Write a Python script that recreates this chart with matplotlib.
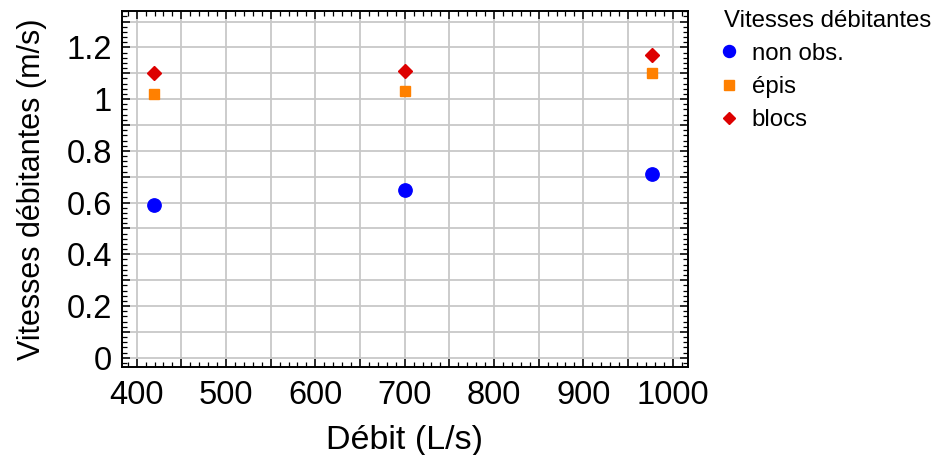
import numpy as np
import matplotlib.pyplot as plt
from matplotlib.ticker import MultipleLocator, FuncFormatter

plt.rcParams['font.family'] = ['Liberation Sans', 'DejaVu Sans']

# Débit (L/s) and vitesses débitantes (m/s)
debit = [419, 700, 977]
v_non_obs = [0.59, 0.65, 0.71]
v_epis = [1.02, 1.03, 1.10]
v_blocs = [1.10, 1.11, 1.17]

fig = plt.figure(figsize=(9.33, 4.55), dpi=100)
ax = fig.add_axes([0.1304, 0.1927, 0.6070, 0.7838])

ax.plot(debit, v_non_obs, 'o', color='#0000ff', ms=9.6, ls='none', label='non obs.', zorder=3)
ax.plot(debit, v_epis, 's', color='#ff8000', ms=7.5, ls='none', label='épis', zorder=3)
ax.plot(debit, v_blocs, 'D', color='#dd0000', ms=6.8, ls='none', label='blocs', zorder=3)

ax.set_xlim(383.2, 1017.2)
ax.set_ylim(-0.037, 1.342)

ax.xaxis.set_major_locator(MultipleLocator(50))
ax.xaxis.set_minor_locator(MultipleLocator(10))
ax.yaxis.set_major_locator(MultipleLocator(0.1))
ax.yaxis.set_minor_locator(MultipleLocator(0.02))


def fmt_x(v, pos):
    return '%d' % round(v) if round(v) % 100 == 0 else ''


def fmt_y(v, pos):
    k = int(round(v * 10))
    if k % 2:
        return ''
    return '%g' % (k / 10)


ax.xaxis.set_major_formatter(FuncFormatter(fmt_x))
ax.yaxis.set_major_formatter(FuncFormatter(fmt_y))

ax.grid(True, which='major', color='#c8c8c8', lw=1.3)
ax.set_axisbelow(True)

ax.tick_params(which='both', direction='in', top=True, right=True, color='black')
ax.tick_params(which='major', length=6, width=1.1, labelsize=23.5)
ax.tick_params(axis='x', which='major', pad=9)
ax.tick_params(axis='y', which='major', pad=7)
ax.tick_params(which='minor', length=3.5, width=0.9)
for sp in ax.spines.values():
    sp.set_linewidth(1.4)

ax.set_xlabel('Débit (L/s)', fontsize=24.5, labelpad=10)
ax.set_ylabel('Vitesses débitantes (m/s)', fontsize=22, labelpad=14)

leg = ax.legend(title='Vitesses débitantes', loc='upper left',
                bbox_to_anchor=(0.772, 0.987), bbox_transform=fig.transFigure,
                frameon=False, fontsize=17.3, title_fontsize=17.3,
                handletextpad=0.75, labelspacing=0.47, markerscale=0.9,
                borderaxespad=0, borderpad=0.15, handlelength=0.4)
leg._legend_box.align = 'left'

fig.savefig('out.png', dpi=100)
